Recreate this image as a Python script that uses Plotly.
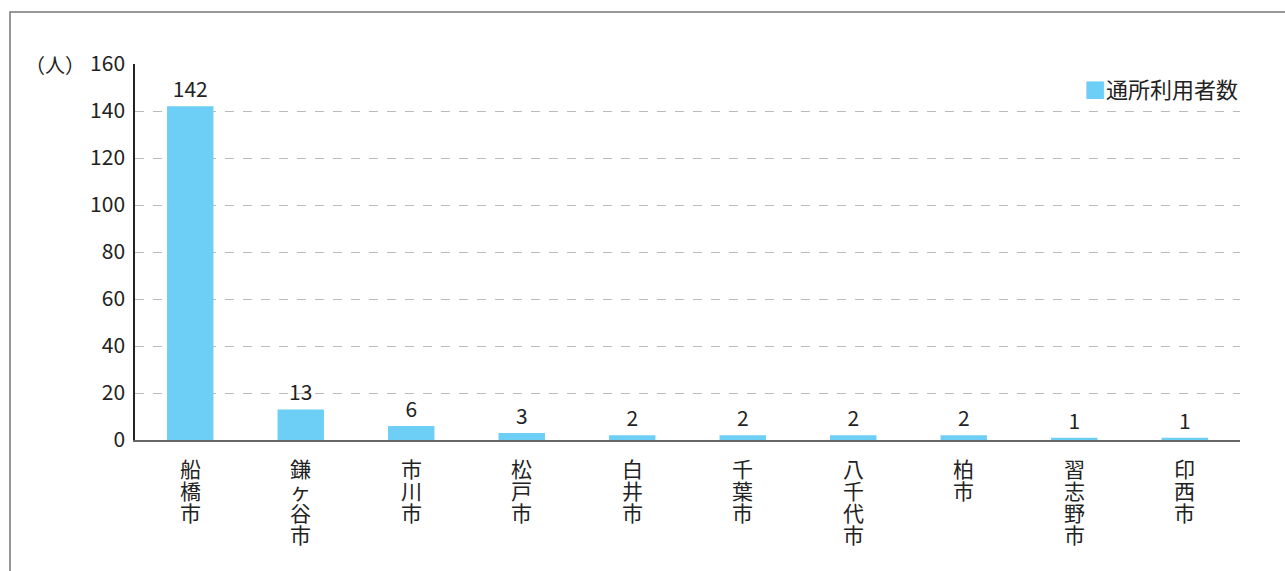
import plotly.graph_objects as go

cities = ["船橋市", "鎌ヶ谷市", "市川市", "松戸市", "白井市", "千葉市", "八千代市", "柏市", "習志野市", "印西市"]
values = [142, 13, 6, 3, 2, 2, 2, 2, 1, 1]
series_name = "通所利用者数"
y_ticks = [0, 20, 40, 60, 80, 100, 120, 140, 160]

bar_color = "#6DCFF6"
font_family = "Noto Sans CJK JP"

fig = go.Figure()
fig.add_trace(go.Bar(
    x=cities, y=values, name=series_name,
    marker=dict(color=bar_color, line=dict(width=0)),
    text=[str(v) for v in values], textposition="outside",
    textfont=dict(size=21, color="#222", family=font_family),
    cliponaxis=False, showlegend=False,
))

L, R, T, B = 135, 45, 64, 131
W, H = 1285, 571
pw, ph = W - L - R, H - T - B

annotations = [
    dict(text="（人）", xref="paper", yref="y", x=-0.043, y=160,
         xanchor="right", yanchor="middle", showarrow=False,
         font=dict(size=20, color="#222")),
    dict(text=f"<span style='color:{bar_color}'>■</span>{series_name}",
         xref="paper", yref="paper", x=1.0, y=1 - 24 / ph,
         xanchor="right", yanchor="middle", showarrow=False,
         font=dict(size=22, color="#222")),
]
# vertical category labels, one character per line with tight spacing
for c in cities:
    for i, ch in enumerate(c):
        annotations.append(dict(
            text=ch, xref="x", yref="y", x=c, y=0,
            xanchor="center", yanchor="middle", showarrow=False,
            yshift=-(28 + 22 * i),
            font=dict(size=21, color="#222"),
        ))

fig.update_layout(
    width=W, height=H,
    margin=dict(l=L, r=R, t=T, b=B),
    plot_bgcolor="white", paper_bgcolor="white",
    bargap=0.58,
    font=dict(family=font_family, color="#222", size=20),
    xaxis=dict(
        showticklabels=False,
        showgrid=False, showline=True, linecolor="#666", linewidth=1.5,
        ticks="",
    ),
    yaxis=dict(
        range=[0, 160], tickvals=y_ticks,
        showgrid=True, gridcolor="#bbbbbb", griddash="dash", gridwidth=1,
        showline=True, linecolor="#222", linewidth=1.5,
        ticks="", tickfont=dict(size=21, color="#222"),
        zeroline=False, ticklabelstandoff=4,
    ),
    annotations=annotations,
    shapes=[
        dict(type="rect", xref="paper", yref="paper",
             x0=(10 - L) / pw, x1=(W + 20 - L) / pw,
             y0=-1.0, y1=(H - B - 12) / ph,
             line=dict(color="#777777", width=1.5), layer="below"),
    ],
)

fig.write_html("out.html", config={"displayModeBar": False},
               post_script="document.body.style.margin='0';")
